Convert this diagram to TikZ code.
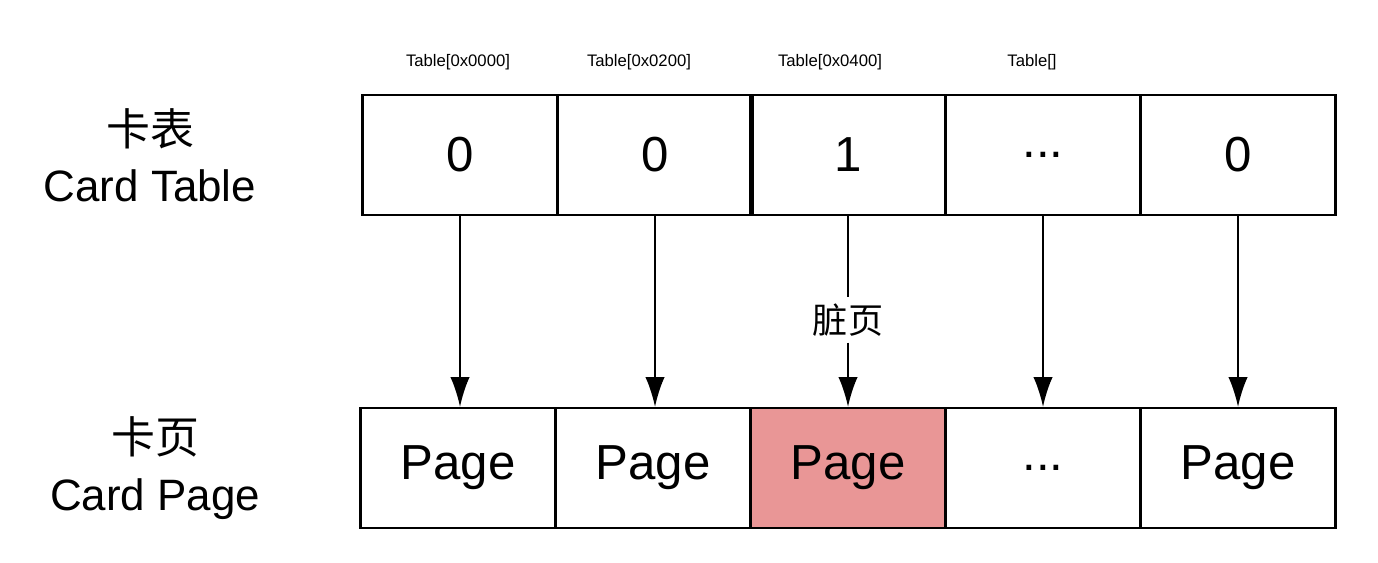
\documentclass[tikz,border=0pt]{standalone}
\usepackage{fontspec}
\setmainfont{Liberation Sans}
\newfontfamily\cjk{Noto Sans CJK SC}
\usetikzlibrary{positioning, arrows.meta}
\tikzset{
  cell/.style={rectangle, draw, line width=1.2pt, minimum width=3.9cm, minimum height=2.4cm, inner sep=0pt, font=\fontsize{28}{30}\selectfont},
  header/.style={font=\fontsize{9.5}{11}\selectfont},
  side/.style={align=center, font=\fontsize{25}{32}\selectfont},
  link/.style={-{Latex[length=17pt,width=11pt]}, line width=1.2pt}
}
\begin{document}
\begin{tikzpicture}[x=0.02cm, y=-0.02cm]
  \useasboundingbox (0,0) rectangle (1378,562);

  % Card table row
  \node (t1) [cell] at (460,155) {0};
  \node (t2) [cell] at (655,155) {0};
  \node (t3) [cell] at (848,155) {1};
  \node (t4) [cell] at (1043,155) {.{}.{}.};
  \node (t5) [cell] at (1238,155) {0};

  % Card page row
  \node (p1) [cell] at (458,468) {Page};
  \node (p2) [cell] at (653,468) {Page};
  \node (p3) [cell, fill={rgb,255:red,233;green,150;blue,150}] at (848,468) {Page};
  \node (p4) [cell] at (1043,468) {.{}.{}.};
  \node (p5) [cell] at (1238,468) {Page};

  % Headers
  \node (h1) [header] at (458,62) {Table[0x0000]};
  \node (h2) [header] at (639,62) {Table[0x0200]};
  \node (h3) [header] at (830,62) {Table[0x0400]};
  \node (h4) [header] at (1032,62) {Table[]};

  % Side labels
  \node (ct) [side] at (150,155) {{\cjk 卡表}\\Card Table};
  \node (cp) [side] at (155,468) {{\cjk 卡页}\\Card Page};

  % Arrows
  \foreach \i in {1,2,4,5}
    \draw [link] (t\i.south) -- (t\i.south |- p\i.north);
  \node (dirty) [font=\cjk\fontsize{20}{24}\selectfont] at (848,320) {脏页};
  \draw [line width=1.2pt] (t3.south) -- (dirty.north);
  \draw [link] (dirty.south) -- (p3.north);
\end{tikzpicture}
\end{document}
